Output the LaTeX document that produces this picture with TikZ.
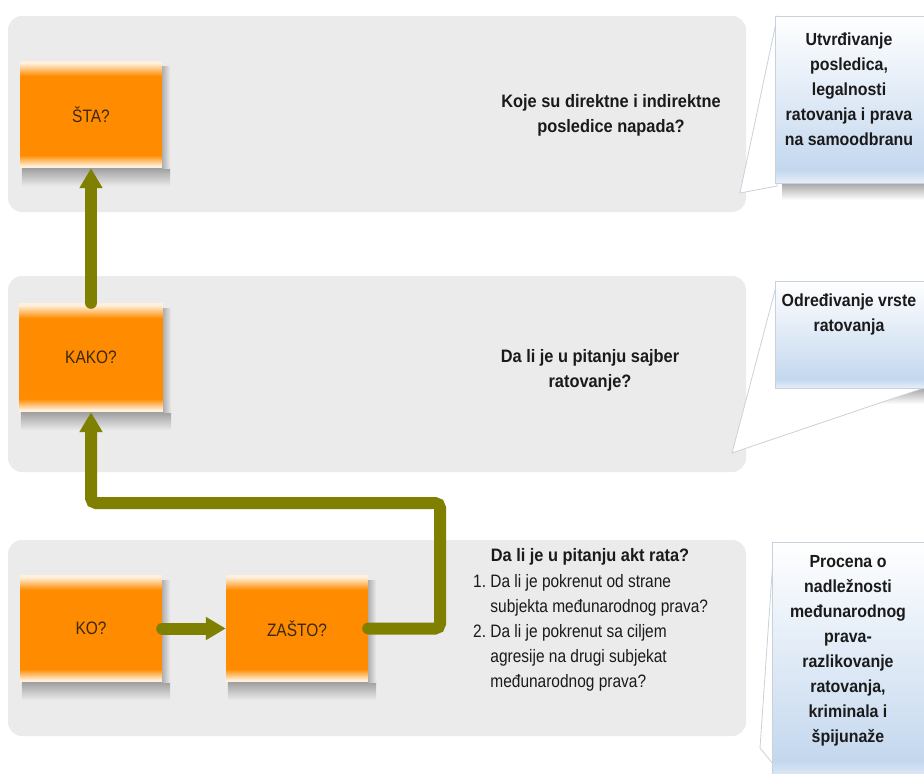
\documentclass[tikz,border=0pt]{standalone}
\usepackage{fontspec}
\setmainfont[FakeStretch=0.86, BoldFeatures={FakeStretch=0.91}]{Liberation Sans}
\usetikzlibrary{arrows.meta}
\definecolor{panelgray}{HTML}{EBEBEB}
\definecolor{arrowol}{HTML}{7F7F00}
\definecolor{orgmain}{HTML}{FF8C00}
\definecolor{orglight}{HTML}{FFF0DC}
\definecolor{calblue}{HTML}{C3D7EE}
\definecolor{calline}{HTML}{C8D2DC}
\definecolor{boxtxt}{HTML}{3A2812}
\definecolor{qtxt}{HTML}{1A1A1A}
\pgfdeclareverticalshading{orangeshade}{100bp}{color(0bp)=(orglight); color(25bp)=(orglight); color(26bp)=(orglight); color(31bp)=(orgmain); color(68bp)=(orgmain); color(74bp)=(orglight); color(75bp)=(orglight); color(100bp)=(orglight)}
\pgfdeclareverticalshading{calloutshade}{100bp}{color(0bp)=(calblue!40); color(25bp)=(calblue!40); color(29bp)=(calblue); color(35bp)=(calblue!85); color(75bp)=(white); color(100bp)=(white)}
\begin{document}
\begin{tikzpicture}[x=1pt,y=-1pt,
  panel/.style={fill=panelgray, rounded corners=14pt, minimum width=738pt, minimum height=196pt, inner sep=0pt},
  obox/.style={shading=orangeshade, minimum width=142pt, minimum height=107pt, inner sep=0pt, text=boxtxt, font=\fontsize{18}{22}\selectfont},
  conn/.style={draw=arrowol, line width=12pt, line cap=round, -{Triangle[length=20pt,width=22pt]}},
  qtext/.style={text=qtxt, font=\bfseries\fontsize{18}{25}\selectfont, align=center, inner sep=0pt},
  ltext/.style={text=qtxt, font=\fontsize{18}{25}\selectfont, align=left, inner sep=0pt},
  ctext/.style={text=qtxt, font=\bfseries\fontsize{17.5}{25}\selectfont, align=center, inner sep=0pt},
  wedgeshape/.style={fill=white, draw=calline, line width=0.8pt},
  cbox/.style={shading=calloutshade, draw=calline, line width=0.6pt},
  bshadow/.style={top color=black!32!panelgray, bottom color=panelgray},
  rshadow/.style={left color=black!25!panelgray, right color=panelgray},
  cshadow/.style={top color=black!35, bottom color=white},
]
\useasboundingbox (0,0) rectangle (924,774);
\fill[white] (0,0) rectangle (924,774);

% panels
\node[panel] (p1) at (377,114) {};
\node[panel] (p2) at (377,374) {};
\node[panel] (p3) at (377,638) {};

% orange boxes
\node[obox] (sta) at (91,114.5) {ŠTA?};
\node[obox, minimum width=144pt, minimum height=109pt] (kako) at (91,357.5) {KAKO?};
\node[obox] (ko) at (91,628.5) {KO?};
\node[obox] (zasto) at (297,628.5) {ZAŠTO?};

\foreach \n in {sta,kako,ko,zasto}{
  \shade[bshadow] ([xshift=2pt]\n.south west) rectangle ([xshift=8pt,yshift=-18pt]\n.south east);
  \shade[rshadow] ([yshift=-6pt]\n.north east) rectangle ([xshift=8pt]\n.south east);
}

% connectors
\coordinate (bend) at (440,503);
\draw[conn] (kako.north) -- (sta.south);
\draw[conn] (ko.east) -- (zasto.west);
\draw[conn, rounded corners=5pt] (zasto.east) -| (bend) -| (kako.south);

% question texts
\node[qtext] (q1) at (611,115) {Koje su direktne i indirektne\\posledice napada?};
\node[qtext] (q2) at (590,370) {Da li je u pitanju sajber\\ratovanje?};
\node[qtext] (q3t) at (590,557) {Da li je u pitanju akt rata?};
\node[ltext, anchor=north west] (q3l) at (473,574) {1.\ Da li je pokrenut od strane\\\phantom{1.\ }subjekta međunarodnog prava?\\2.\ Da li je pokrenut sa ciljem\\\phantom{2.\ }agresije na drugi subjekat\\\phantom{2.\ }međunarodnog prava?};

% callout 1
\shade[cshadow] (782,183) rectangle (930,200);
\filldraw[wedgeshape] (777,18) -- (740,193) -- (777,186) -- cycle;
\shade[cbox] (775,16) rectangle (930,183);
\node[ctext] (c1) at (849,89) {Utvrđivanje\\posledica,\\legalnosti\\ratovanja i prava\\na samoodbranu};

% callout 2
\shade[cshadow] (782,388) rectangle (930,404);
\filldraw[wedgeshape] (777,283) -- (732,453) -- (924,388) -- cycle;
\shade[cbox] (775,281) rectangle (930,388);
\node[ctext] (c2) at (849,314) {Određivanje vrste\\ratovanja};

% callout 3
\filldraw[wedgeshape] (774,545) -- (760,748) -- (774,765) -- cycle;
\shade[cbox] (772,542) rectangle (930,780);
\node[ctext] (c3) at (848,651) {Procena o\\nadležnosti\\međunarodnog\\prava-\\razlikovanje\\ratovanja,\\kriminala i\\špijunaže};
\end{tikzpicture}
\end{document}
